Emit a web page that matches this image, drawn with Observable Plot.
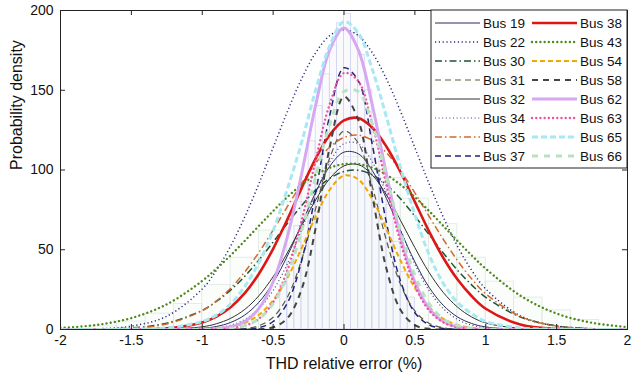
<!DOCTYPE html>
<html><head><meta charset="utf-8">
<script src="https://cdn.jsdelivr.net/npm/d3@7"></script>
<script src="https://cdn.jsdelivr.net/npm/@observablehq/plot@0.6"></script>
<style>body{margin:0;background:#fff}#chart{width:632px;height:387px}</style>
</head><body><div id="chart"></div>
<script>
// x grid (THD relative error, %)
const xs = [-2,-1.75,-1.5,-1.25,-1,-0.9,-0.8,-0.7,-0.6,-0.5,-0.4,-0.3,-0.2,-0.1,0,0.1,0.2,0.3,0.4,0.5,0.6,0.7,0.8,0.9,1,1.25,1.5,1.75,2];
// probability density, one array per bus
const bus19 = [0,0,0,0.1,0.8,1.9,4.4,9.1,17.1,29.4,46.0,65.9,86.0,102.4,111.2,110.2,99.6,82.1,61.8,42.4,26.5,15.2,7.9,3.8,1.6,0.1,0,0,0];
const bus22 = [0.1,0.4,2.1,8.3,25.4,37.2,52.3,70.6,91.5,114.0,136.5,157.0,173.5,184.3,188,184.3,173.5,157.0,136.5,114.0,91.5,70.6,52.3,37.2,25.4,8.3,2.1,0.4,0.1];
const bus30 = [0,0.2,1.0,4.0,12.0,17.6,24.7,33.4,43.6,54.8,66.5,77.6,87.4,94.8,99.1,99.8,96.9,90.7,81.8,71.0,59.5,48.0,37.3,28.0,20.2,7.6,2.3,0.5,0.1];
const bus31 = [0,0,0,0,0,0,0.1,0.6,2.4,7.7,20.2,43.4,75.8,107.7,124.5,117.0,89.4,55.6,28.1,11.6,3.9,1.1,0.2,0,0,0,0,0,0];
const bus32 = [0,0,0,0.2,1.7,3.6,7.0,12.6,21.2,33.1,48.0,64.8,81.2,94.7,102.6,103.4,96.8,84.3,68.2,51.3,35.8,23.3,14.1,7.9,4.1,0.6,0.1,0,0];
const bus34 = [0,0,0,0,0.4,1.1,2.7,6.3,13.1,24.5,41.1,62.4,85.2,105.0,116.5,116.5,105.0,85.2,62.4,41.1,24.5,13.1,6.3,2.7,1.1,0.1,0,0,0];
const bus35 = [0,0.2,0.8,3.5,11.8,17.9,25.9,36.1,48.4,62.3,77.0,91.4,104.3,114.4,120.4,121.9,118.5,110.7,99.4,85.7,71.0,56.6,43.3,31.8,22.4,7.9,2.2,0.5,0.1];
const bus37 = [0,0,0,0,0,0,0,0.2,1.2,5.0,16.5,42.6,85.7,134.4,164.1,156.1,115.7,66.7,30.0,10.5,2.9,0.6,0.1,0,0,0,0,0,0];
const bus38 = [0,0,0.1,0.7,4.4,8.1,14.0,22.8,35.0,50.6,68.9,88.5,107.1,122.1,131.1,132.6,126.5,114.6,98.5,80.0,61.5,45.0,31.5,21.0,13.0,3.0,0.4,0,0];
const bus43 = [1.0,2.8,7.2,15.8,30.5,38.1,46.5,55.6,65.0,74.3,83.0,90.7,97.0,101.4,103.7,103.7,101.4,97.0,90.7,83.0,74.3,65.0,55.6,46.5,38.1,20.9,10.0,4.2,1.5];
const bus54 = [0,0,0,0,0.2,0.6,1.6,4.1,9.2,18.3,32.3,50.8,70.8,87.7,96.5,94.2,81.7,62.9,43.0,26.1,14.1,6.7,2.9,1.1,0.4,0,0,0,0];
const bus58 = [0,0,0,0,0,0,0,0,0.2,1.4,7.0,25.0,63.6,114.6,146.0,131.6,83.9,37.9,12.1,2.7,0.4,0,0,0,0,0,0,0,0];
const bus62 = [0,0,0,0,0.1,0.5,1.7,5.0,13.2,29.8,57.9,97.1,140.6,175.5,189,175.5,140.6,97.1,57.9,29.8,13.2,5.0,1.7,0.5,0.1,0,0,0,0];
const bus63 = [0,0,0,0,0,0.2,0.7,2.3,6.8,17.1,36.9,67.8,106.1,141.5,160.8,155.8,128.6,90.4,54.2,27.7,12.0,4.5,1.4,0.4,0.1,0,0,0,0];
const bus65 = [0,0,0.2,1,5,9,16,27,42,62,88,117,150,178,193,186,163,133,101,72,47,29,17,10,5,1,0.2,0,0];
const bus66 = [0,0,0,0,0,0.2,0.7,2.4,6.7,16.2,34.0,61.4,95.7,128.7,149.2,149.2,128.7,95.7,61.4,34.0,16.2,6.7,2.4,0.7,0.2,0,0,0,0];

const busNames = ["Bus 19","Bus 22","Bus 30","Bus 31","Bus 32","Bus 34","Bus 35","Bus 37","Bus 38","Bus 43","Bus 54","Bus 58","Bus 62","Bus 63","Bus 65","Bus 66"];
const busValues = [bus19,bus22,bus30,bus31,bus32,bus34,bus35,bus37,bus38,bus43,bus54,bus58,bus62,bus63,bus65,bus66];

// faint background histograms
const histNarrowX = [-0.45,-0.4,-0.35,-0.3,-0.25,-0.2,-0.15,-0.1,-0.05,0,0.05,0.1,0.15,0.2,0.25,0.3,0.35,0.4,0.45];
const histNarrowH = [28,42,65,92,118,140,160,178,192,198,186,172,150,124,100,78,55,36,20];
const histWideX = [-1.8,-1.6,-1.4,-1.2,-1,-0.8,-0.6,-0.4,-0.2,0,0.2,0.4,0.6,0.8,1,1.2,1.4,1.6];
const histWideH = [2,5,10,16,28,45,62,80,98,108,95,82,66,45,30,20,12,6];

const xTicks = [-2,-1.5,-1,-0.5,0,0.5,1,1.5,2];
const yTicks = [0,50,100,150,200];

const styles = {
  "Bus 19": {stroke:"#2b2b5e", w:1, dash:null, cap:"butt"},
  "Bus 22": {stroke:"#2a2a82", w:1.5, dash:"1.2 2.6", cap:"butt"},
  "Bus 30": {stroke:"#1f5434", w:1.5, dash:"7 3 1.5 3", cap:"butt"},
  "Bus 31": {stroke:"#5a5a40", w:1.2, dash:"6 4", cap:"butt"},
  "Bus 32": {stroke:"#303030", w:1, dash:null, cap:"butt"},
  "Bus 34": {stroke:"#4a3f8a", w:1.2, dash:"1 2.6", cap:"butt"},
  "Bus 35": {stroke:"#d2692e", w:1.5, dash:"7 3 1.5 3", cap:"butt"},
  "Bus 37": {stroke:"#22227a", w:1.5, dash:"6 4", cap:"butt"},
  "Bus 38": {stroke:"#dd1616", w:2.6, dash:null, cap:"butt"},
  "Bus 43": {stroke:"#4e8a1c", w:2.4, dash:"0.01 4.2", cap:"round"},
  "Bus 54": {stroke:"#f0a800", w:2, dash:"5 3", cap:"butt"},
  "Bus 58": {stroke:"#444444", w:2, dash:"6 5", cap:"butt"},
  "Bus 62": {stroke:"#d6a8f2", w:3, dash:null, cap:"butt"},
  "Bus 63": {stroke:"#f050a0", w:2.4, dash:"0.01 4.2", cap:"round"},
  "Bus 65": {stroke:"#a6e8f4", w:3, dash:"6 3", cap:"butt"},
  "Bus 66": {stroke:"#b8e2c2", w:3, dash:"6 6", cap:"butt"}
};

const table = busNames.flatMap((name,i) => xs.map((x,j) => ({bus:name, x, y: busValues[i][j]})));
const histN = histNarrowX.map((x,i) => ({x1:x, x2:x+0.05, h:histNarrowH[i]}));
const histW = histWideX.map((x,i) => ({x1:x, x2:x+0.2, h:histWideH[i]}));

const W = 632, H = 387, mL = 60, mR = 5, mT = 10, mB = 58;
const fw = W - mL - mR, fh = H - mT - mB;
const font = "'Liberation Sans', Arial, Helvetica, sans-serif";

const plot = Plot.plot({
  width: W, height: H,
  marginLeft: mL, marginRight: mR, marginTop: mT, marginBottom: mB,
  style: {fontFamily: font, background: "#fff", color: "#111"},
  x: {domain: [-2, 2]},
  y: {domain: [0, 200]},
  marks: [
    Plot.rectY(histW, {x1:"x1", x2:"x2", y:"h", fill:"#eef6f0", fillOpacity:0.25, stroke:"#dbe9df", strokeWidth:0.8}),
    Plot.rectY(histN, {x1:"x1", x2:"x2", y:"h", fill:"#eeeefa", fillOpacity:0.3, stroke:"#d2d5f2", strokeWidth:0.8}),
    ...busNames.map(name => {
      const s = styles[name];
      return Plot.line(table.filter(d => d.bus === name), {
        x:"x", y:"y", stroke:s.stroke, strokeWidth:s.w, strokeDasharray:s.dash, strokeLinecap:s.cap,
        curve:"catmull-rom", clip:true
      });
    }),
    Plot.frame({stroke:"#222"}),
    Plot.tickX(xTicks, {x:d=>d, insetTop: fh-5, stroke:"#222"}),
    Plot.tickX(xTicks, {x:d=>d, insetBottom: fh-5, stroke:"#222"}),
    Plot.tickY(yTicks, {y:d=>d, insetRight: fw-5, stroke:"#222"}),
    Plot.tickY(yTicks, {y:d=>d, insetLeft: fw-5, stroke:"#222"}),
    Plot.axisX({ticks:xTicks, tickFormat:d=>String(d), tickSize:0, tickPadding:6, fontSize:14, label:null}),
    Plot.axisY({ticks:yTicks, tickFormat:d=>String(d), tickSize:0, tickPadding:7, fontSize:14, label:null}),
    Plot.text(["THD relative error (%)"], {text:d=>d, frameAnchor:"bottom", dy:39, fontSize:16, fill:"#111"}),
    Plot.text(["Probability density"], {text:d=>d, frameAnchor:"left", dx:-44, rotate:-90, fontSize:16, fill:"#111"})
  ]
});

// legend drawn inside the plot area, top-right
const svg = d3.select(plot);
const lg = svg.append("g").attr("font-family", font).attr("font-size", 13.5)
  .attr("fill", "#111").attr("text-anchor", "start");
lg.append("rect").attr("x", 431).attr("y", 10).attr("width", 196).attr("height", 158)
  .attr("fill", "#fff").attr("stroke", "#222");
busNames.forEach((name, i) => {
  const col = Math.floor(i / 8), row = i % 8;
  const lx = col ? 532 : 435, ly = 23 + row * 19;
  const s = styles[name];
  lg.append("line").attr("x1", lx).attr("x2", lx + 45).attr("y1", ly).attr("y2", ly)
    .attr("stroke", s.stroke).attr("stroke-width", s.w)
    .attr("stroke-dasharray", s.dash).attr("stroke-linecap", s.cap);
  lg.append("text").attr("x", lx + 48).attr("y", ly).attr("dy", "0.35em").text(name);
});

document.getElementById("chart").appendChild(plot);
</script>
</body></html>
